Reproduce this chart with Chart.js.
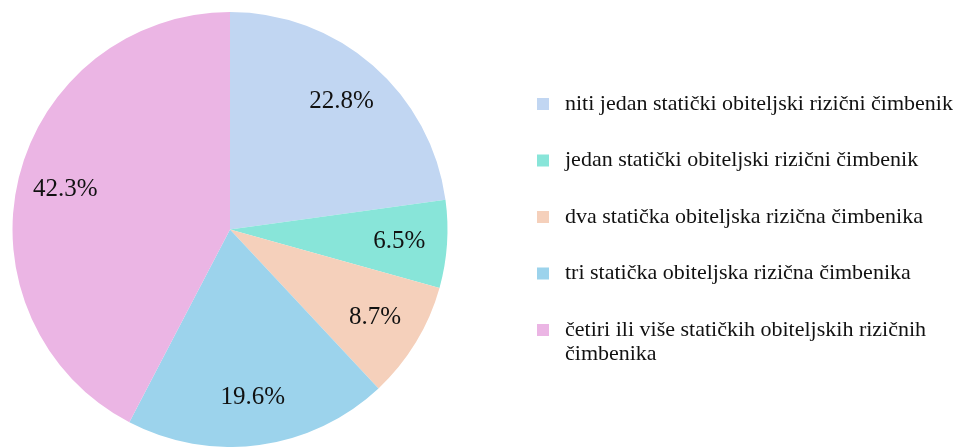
<!DOCTYPE html>
<html>
<head>
<meta charset="utf-8">
<script src="https://cdn.jsdelivr.net/npm/chart.js@4.4.1/dist/chart.umd.min.js"></script>
<style>
    html, body { margin: 0; padding: 0; background: #fff; overflow: hidden; }
    #wrap { position: relative; width: 961px; height: 447px; }
</style>
</head>
<body>
<div id="wrap"><canvas id="pieChart"></canvas></div>
<script>
    const categories = [
        'niti jedan statički obiteljski rizični čimbenik',
        'jedan statički obiteljski rizični čimbenik',
        'dva statička obiteljska rizična čimbenika',
        'tri statička obiteljska rizična čimbenika',
        'četiri ili više statičkih obiteljskih rizičnih čimbenika'
    ];
    const shares = [22.8, 6.5, 8.7, 19.6, 42.3];
    const sliceColors = ['#c1d6f2', '#88e5d9', '#f5d0bb', '#9cd3ec', '#ebb5e4'];

    // Percent labels drawn inside each slice
    const sliceLabels = {
        id: 'sliceLabels',
        afterDatasetsDraw(chart) {
            const ctx = chart.ctx;
            const meta = chart.getDatasetMeta(0);
            ctx.save();
            ctx.font = '25px "Liberation Serif", serif';
            ctx.fillStyle = '#111';
            ctx.textAlign = 'center';
            ctx.textBaseline = 'middle';
            meta.data.forEach((arc, i) => {
                const p = arc.getProps(['x', 'y', 'startAngle', 'endAngle', 'outerRadius'], true);
                const mid = (p.startAngle + p.endAngle) / 2;
                const r = p.outerRadius * 0.78;
                ctx.fillText(shares[i].toFixed(1) + '%', p.x + Math.cos(mid) * r, p.y + Math.sin(mid) * r);
            });
            ctx.restore();
        }
    };

    // Legend on the right, wrapped text, drawn on the canvas
    const sideLegend = {
        id: 'sideLegend',
        afterDraw(chart, args, opts) {
            const ctx = chart.ctx;
            const labels = chart.data.labels;
            const colors = chart.data.datasets[0].backgroundColor;
            ctx.save();
            ctx.font = opts.fontSize + 'px "Liberation Serif", serif';
            ctx.textAlign = 'left';
            ctx.textBaseline = 'middle';
            let y = opts.top;
            labels.forEach((name, i) => {
                // word wrap
                const words = name.split(' ');
                const lines = [];
                let line = '';
                words.forEach(w => {
                    const test = line ? line + ' ' + w : w;
                    if (ctx.measureText(test).width > opts.maxWidth && line) {
                        lines.push(line);
                        line = w;
                    } else {
                        line = test;
                    }
                });
                lines.push(line);

                ctx.fillStyle = colors[i];
                ctx.fillRect(opts.left, y - opts.box / 2, opts.box, opts.box);
                ctx.fillStyle = '#111';
                lines.forEach((l, k) => {
                    ctx.fillText(l, opts.left + opts.textGap, y + k * opts.lineHeight);
                });
                y += opts.rowStep;
            });
            ctx.restore();
        }
    };

    new Chart(document.getElementById('pieChart'), {
        type: 'pie',
        data: {
            labels: categories,
            datasets: [{
                data: shares,
                backgroundColor: sliceColors,
                borderWidth: 0
            }]
        },
        options: {
            responsive: true,
            maintainAspectRatio: false,
            animation: false,
            layout: { padding: { left: 11, top: 12, right: 512, bottom: 0 } },
            plugins: {
                legend: { display: false },
                tooltip: { enabled: false },
                sideLegend: { left: 537, top: 104, box: 12, textGap: 28, fontSize: 22, lineHeight: 24, rowStep: 56.5, maxWidth: 396 }
            }
        },
        plugins: [sliceLabels, sideLegend]
    });
</script>
</body>
</html>
